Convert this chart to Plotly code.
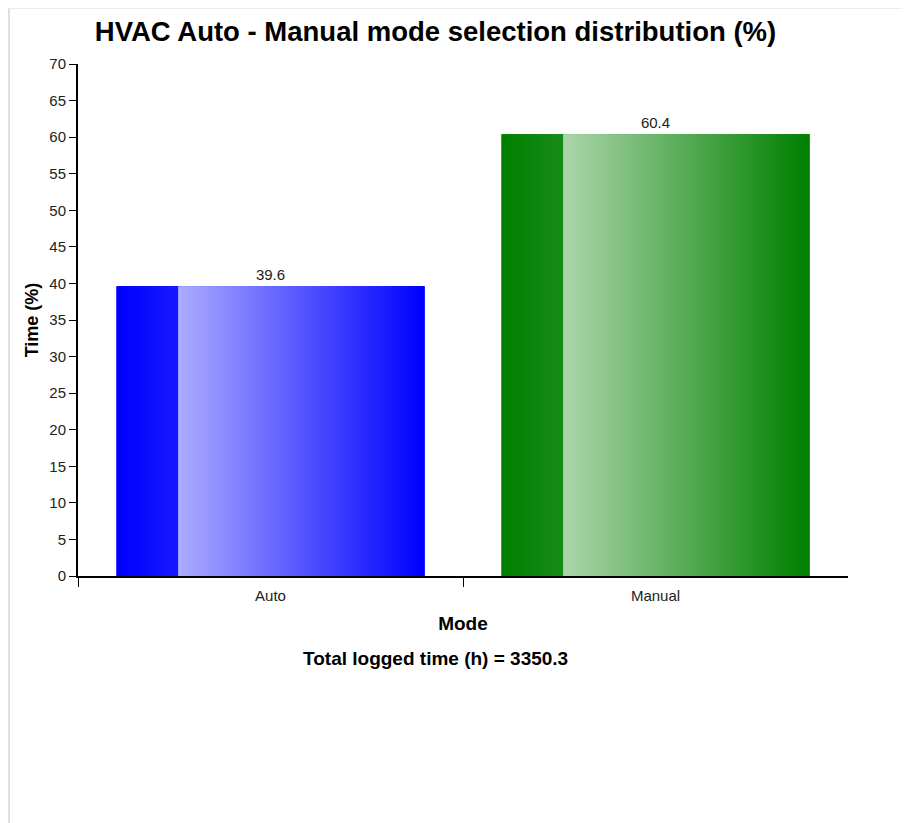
import plotly.graph_objects as go

categories = ["Auto", "Manual"]
values = [39.6, 60.4]
base_colors = [(0, 0, 255), (0, 128, 0)]
total_hours = 3350.3

FONT = "Arial, 'Liberation Sans', sans-serif"
BAR_W = 0.8
SOLID_FRAC = 0.2

fig = go.Figure()


def shade(c, a):
    r, g, b = c
    return "rgb(%d,%d,%d)" % (round(255 + (r - 255) * a), round(255 + (g - 255) * a), round(255 + (b - 255) * a))


def add_gradient(x0, x1, a0, a1, n):
    step = (x1 - x0) / n
    for i in range(n):
        t = i / (n - 1)
        a = a0 + (a1 - a0) * t
        off = x0 + i * step
        w = min(2 * step, x1 - off)
        fig.add_trace(go.Bar(
            x=categories, y=values, width=w, offset=off,
            marker=dict(color=[shade(c, a) for c in base_colors], line=dict(width=0)),
            hoverinfo="skip", showlegend=False,
        ))


# base bar with value labels
fig.add_trace(go.Bar(
    x=categories, y=values, width=BAR_W,
    marker=dict(color=[shade(c, 1.0) for c in base_colors], line=dict(width=0)),
    text=["%.1f" % v for v in values], textposition="outside",
    textfont=dict(family=FONT, size=15, color="#222"),
    cliponaxis=False, hoverinfo="skip", showlegend=False,
))

left = -BAR_W / 2
mid = left + BAR_W * SOLID_FRAC
right = BAR_W / 2
add_gradient(left, mid, 1.0, 0.91, 12)
add_gradient(mid, right, 0.33, 1.0, 70)

# empty helper trace so the boundary-tick axis is drawn
fig.add_trace(go.Scatter(x=[None], y=[None], xaxis="x2", yaxis="y", mode="markers",
                         hoverinfo="skip", showlegend=False))

PL, PT, PW, PH = 70, 56, 770, 512

fig.update_layout(
    width=902, height=815,
    barmode="overlay",
    paper_bgcolor="white", plot_bgcolor="white",
    margin=dict(l=PL, r=902 - PL - PW, t=PT, b=815 - PT - PH),
    font=dict(family=FONT, color="#222"),
    title=dict(text="<b>HVAC Auto - Manual mode selection distribution (%)</b>",
               x=(427.5 - PL) / PW, xref="paper", xanchor="center", y=1 - 23 / 815, yanchor="middle",
               font=dict(size=27.5, color="black", family=FONT)),
    xaxis=dict(
        type="category", showline=True, linecolor="black", linewidth=2,
        ticks="", tickfont=dict(size=15, color="#222", family=FONT), ticklabelstandoff=5,
        title=dict(text="<b>Mode</b>", font=dict(size=19, color="black", family=FONT), standoff=14),
        showgrid=False, zeroline=False,
    ),
    xaxis2=dict(
        overlaying="x", side="bottom", anchor="y", range=[-0.5, 1.5],
        tickmode="array", tickvals=[-0.5, 0.5], ticks="outside", ticklen=10, tickcolor="black", tickwidth=1,
        showticklabels=False, showgrid=False, zeroline=False, showline=False,
    ),
    yaxis=dict(
        range=[0, 70], dtick=5, showline=True, linecolor="black", linewidth=2,
        ticks="outside", ticklen=7, tickcolor="black", tickwidth=1,
        tickfont=dict(size=15, color="#222", family=FONT),
        title=dict(text="<b>Time (%)</b>", font=dict(size=18, color="black", family=FONT), standoff=6),
        showgrid=False, zeroline=False,
    ),
    annotations=[dict(
        text="<b>Total logged time (h) = %.1f</b>" % total_hours,
        xref="paper", yref="paper", x=(427.5 - PL) / PW, y=-(650 - (PT + PH)) / PH,
        xanchor="center", yanchor="middle", showarrow=False,
        font=dict(size=19, color="black", family=FONT),
    )],
    shapes=[
        dict(type="line", xref="paper", yref="paper", x0=(0 - PL) / PW, x1=(902 - PL) / PW,
             y0=(PT + PH - 0.5) / PH, y1=(PT + PH - 0.5) / PH, line=dict(color="#ececec", width=1)),
        dict(type="line", xref="paper", yref="paper", x0=(1 - PL) / PW, x1=(1 - PL) / PW,
             y0=(PT + PH - 0.5) / PH, y1=(PT + PH - 815) / PH, line=dict(color="#e0e0e0", width=2)),
    ],
)

fig.write_html("out.html")
